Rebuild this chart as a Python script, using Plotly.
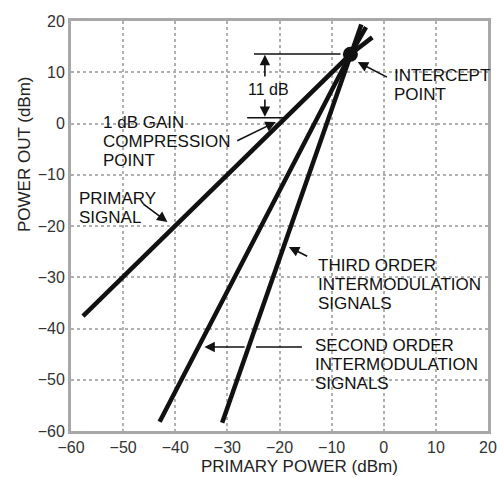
import plotly.graph_objects as go

# ---- data ----
primary_x = [-57.7, -6.4, -2.2]
primary_y = [-37.6, 13.5, 16.8]
second_x = [-43.0, -6.4, -3.4]
second_y = [-58.2, 13.5, 18.8]
third_x = [-31.0, -6.4, -4.3]
third_y = [-58.4, 13.5, 19.3]
intercept_x = [-6.4]
intercept_y = [13.5]
tick_vals = [-60, -50, -40, -30, -20, -10, 0, 10, 20]

INK = "#111111"
FONT = "Liberation Sans, Arial, Helvetica, sans-serif"

fig = go.Figure()
for xs, ys in [(primary_x, primary_y), (second_x, second_y), (third_x, third_y)]:
    fig.add_trace(go.Scatter(x=xs, y=ys, mode="lines",
                             line=dict(color=INK, width=4.5), hoverinfo="skip",
                             showlegend=False))
fig.add_trace(go.Scatter(x=intercept_x, y=intercept_y, mode="markers",
                         marker=dict(color=INK, size=15), showlegend=False))

# 11 dB reference lines
fig.add_shape(type="line", x0=-24.9, x1=-8.3, y0=13.56, y1=13.56,
              line=dict(color=INK, width=1.5))
fig.add_shape(type="line", x0=-26.2, x1=-18.8, y0=1.1, y1=1.1,
              line=dict(color=INK, width=1.5))
# second-order leader segment right of third-order line
fig.add_shape(type="line", x0=-24.5, x1=-15.7, y0=-43.6, y1=-43.6,
              line=dict(color=INK, width=1.5))

def arrow(x, y, ax, ay):
    fig.add_annotation(x=x, y=y, ax=ax, ay=ay, xref="x", yref="y",
                       axref="x", ayref="y", text="", showarrow=True,
                       arrowhead=2, arrowsize=1.3, arrowwidth=1.6,
                       arrowcolor=INK)

arrow(-22.8, 13.4, -22.8, 8.9)      # 11 dB up
arrow(-22.8, 1.3, -22.8, 5.0)       # 11 dB down
arrow(-5.0, 12.0, 0.9, 8.9)         # intercept
arrow(-20.7, 0.3, -28.4, -3.5)      # compression
arrow(-41.5, -19.2, -46.4, -15.5)   # primary signal
arrow(-18.2, -24.1, -14.4, -26.05)  # third order
arrow(-34.4, -43.6, -26.4, -43.6)   # second order

def label(text, x, y, size=17):
    fig.add_annotation(x=x, y=y, xref="x", yref="y", text=text,
                       showarrow=False, xanchor="left", yanchor="middle",
                       font=dict(family=FONT, size=size, color=INK))

label("11 dB", -26.5, 6.6, size=16)
label("INTERCEPT", 1.6, 9.3)
label("POINT", 1.6, 5.65)
label("1 dB GAIN", -54.27, 0.1)
label("COMPRESSION", -54.27, -3.55)
label("POINT", -54.27, -7.2)
label("PRIMARY", -58.85, -14.6)
label("SIGNAL", -58.85, -18.25)
label("THIRD ORDER", -13.0, -27.8)
label("INTERMODULATION", -13.0, -31.45)
label("SIGNALS", -13.0, -35.1)
label("SECOND ORDER", -13.6, -43.4)
label("INTERMODULATION", -13.6, -47.05)
label("SIGNALS", -13.6, -50.7)

# axis titles (placed as in the reference, off-centre)
fig.add_annotation(text="PRIMARY POWER (dBm)", xref="paper", yref="paper",
                   x=(299 - 71) / 417, y=-(466 - 431) / 410, showarrow=False,
                   xanchor="center", yanchor="middle",
                   font=dict(family=FONT, size=17, color="#222222"))
fig.add_annotation(text="POWER OUT (dBm)", xref="paper", yref="paper",
                   x=-(71 - 25) / 417, y=(431 - 154) / 410, showarrow=False,
                   xanchor="center", yanchor="middle", textangle=-90,
                   font=dict(family=FONT, size=17, color="#222222"))

axis_common = dict(
    tickvals=tick_vals, showgrid=True, gridcolor="#b0b0b0", gridwidth=1.5,
    griddash="dot", zeroline=False, showline=True, linecolor="#a8a8a8",
    linewidth=3, mirror=True, ticks="", automargin=False,
    ticklabeloverflow="allow",
    tickfont=dict(family=FONT, size=16, color="#333333"),
)

fig.update_xaxes(range=[-60, 20], **axis_common)
fig.update_yaxes(range=[-60, 20], **axis_common)

fig.update_layout(width=497, height=477, margin=dict(l=71, r=9, t=21, b=46),
                  paper_bgcolor="white", plot_bgcolor="white",
                  font=dict(family=FONT))

fig.write_html("out.html")
